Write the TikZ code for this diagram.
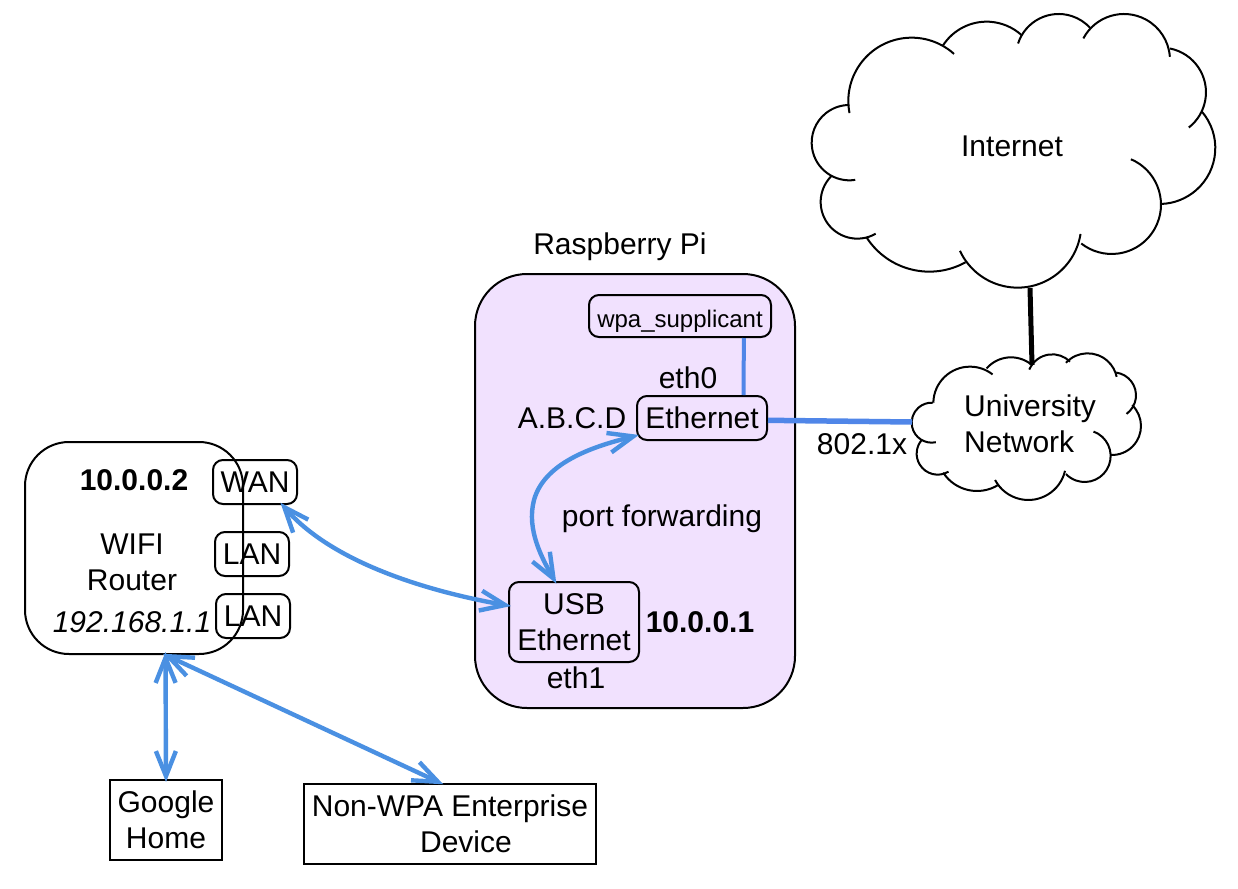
\documentclass[tikz,border=0pt]{standalone}
\usepackage{fontspec}
\setmainfont{Liberation Sans}
\usetikzlibrary{arrows.meta}
\definecolor{pifill}{HTML}{F1E1FE}
\definecolor{arrowblue}{HTML}{4A90E2}
\definecolor{linkblue}{HTML}{5086E8}
\tikzstyle{board}=[draw,line width=2pt,rectangle,inner sep=0pt]
\tikzstyle{port}=[board,rounded corners=10pt]
\tikzstyle{device}=[board,align=center]
\tikzstyle{label}=[inner sep=0pt,align=center]
\tikzstyle{cloudline}=[draw,line width=2pt]
\tikzstyle{link} = [draw,line width=4pt,color=linkblue]
\tikzstyle{biarrow} = [draw,line width=4.4pt,color=arrowblue,shorten <=-3pt,shorten >=-3pt,{Straight Barb[length=25pt,width=20pt]}-{Straight Barb[length=25pt,width=20pt]}]

\begin{document}
\begin{tikzpicture}[x=1pt,y=-1pt,font=\fontsize{30}{36}\selectfont]
    \useasboundingbox (0,0) rectangle (1238,888);

    % Raspberry Pi and the router body
    \node[board,fill=pifill,rounded corners=52pt,minimum width=320pt,minimum height=434pt] (Pi) at (635,491) {};
    \node[board,rounded corners=44pt,minimum width=218pt,minimum height=212pt] (Router) at (134,548) {};

    % Boxes inside the Pi
    \node[port,minimum width=182pt,minimum height=42pt,text height=27pt,font=\fontsize{24}{30}\selectfont] (Wpa) at (680,316) {wpa\_supplicant};
    \node[port,minimum width=130pt,minimum height=44pt] (Eth) at (702,418) {Ethernet};
    \node[port,align=center,minimum width=130pt,minimum height=80pt] (Usb) at (574,622) {USB\\Ethernet};

    % Router ports
    \foreach \pos/\wid/\name/\txt in {{(255,482)/84/Wan/WAN}, {(252,554)/74/LanA/LAN}, {(253,616)/74/LanB/LAN}}
        \node[port,minimum width=\wid pt,minimum height=44pt] (\name) at \pos {\txt};

    % End devices
    \node[device,minimum width=112pt,minimum height=80pt] (Google) at (166,820) {Google\\Home};
    \node[device,minimum width=292pt,minimum height=80pt] (Nonwpa) at (450,824) {Non-WPA Enterprise\\\hspace*{32pt}Device};

    % Free labels
    \foreach \pos/\name/\txt in {{(620,247)/PiLabel/Raspberry Pi}, {(688,378)/EthZero/eth0}, {(572,418)/Abcd/A.B.C.D},
            {(662,519)/Forward/port forwarding}, {(576,678)/EthOne/eth1}, {(862,444)/Dot/802.1x},
            {(132,562)/RouterLabel/WIFI\\Router}, {(1012,146)/InternetLabel/Internet}}
        \node[label] (\name) at \pos {\txt};
    \node[label,font=\fontsize{30}{36}\selectfont\bfseries] (IpPi) at (700,622) {10.0.0.1};
    \node[label,font=\fontsize{30}{36}\selectfont\bfseries] (IpWan) at (134,480) {10.0.0.2};
    \node[label,font=\fontsize{30}{36}\selectfont\itshape] (IpLan) at (132,622) {192.168.1.1};
    \node[label,align=left,anchor=west] (UniLabel) at (964,424) {University\\Network};

    % Internet cloud, lobe by lobe
    \begin{scope}[shift={(800,0)},x=0.3333pt,y=-0.3333pt]
        \foreach \cen/\rad/\from/\till in {{(335,303)/190/169/312}, {(560,221)/156/213/312}, {(776,170)/128/198/318},
                {(972,180)/138/208/356}, {(1084,277)/134/281/412}, {(1078,444)/168/319/448}, {(935,614)/148/293/488},
                {(653,672)/191/9/155}, {(388,591)/224/61/147}, {(172,606)/110/60/226}, {(148,428)/113/81/270}}
            \draw[cloudline] \cen ++(\from:\rad) arc[start angle=\from,end angle=\till,radius=\rad];
    \end{scope}

    % University cloud
    \begin{scope}[shift={(900,340)},x=0.3333pt,y=-0.3333pt]
        \foreach \cen/\rad/\from/\till in {{(210,190)/110/181/308}, {(333,149)/97/221/308}, {(457,118)/75/203/315},
                {(563,129)/89/223/348}, {(639,166)/69/278/414}, {(636,258)/87/314/452}, {(554,348)/78/290/496},
                {(385,367)/113/13/152}, {(231,332)/121/58/147}, {(113,341)/63/59/221}, {(95,248)/60/78/274}}
            \draw[cloudline] \cen ++(\from:\rad) arc[start angle=\from,end angle=\till,radius=\rad];
    \end{scope}

    % Free ends on the clouds and the router
    \coordinate (InternetFoot) at (1030,288);
    \coordinate (UniTop) at (1032,365);
    \coordinate (UniWest) at (912,422);
    \coordinate (RouterFoot) at (165.5,655);

    % Links
    \path[link] (Wpa.-19) -- (Eth.29.5);
    \path[link,line width=5.5pt] (Eth.-2) -- (UniWest);
    \draw[line width=5pt] (InternetFoot) -- (UniTop);

    % Arrows
    \path[biarrow] (Eth.195) .. controls (600,445) and (545,460) .. (534,500) .. controls (526,530) and (543,560) .. (Usb.115);
    \path[biarrow] (Wan.-40) .. controls (330,560) and (420,590) .. (Usb.166);
    \foreach \source/\dest in {RouterFoot/Google.north, RouterFoot/Nonwpa.103}
        \path[biarrow] (\source) -- (\dest);
\end{tikzpicture}
\end{document}
